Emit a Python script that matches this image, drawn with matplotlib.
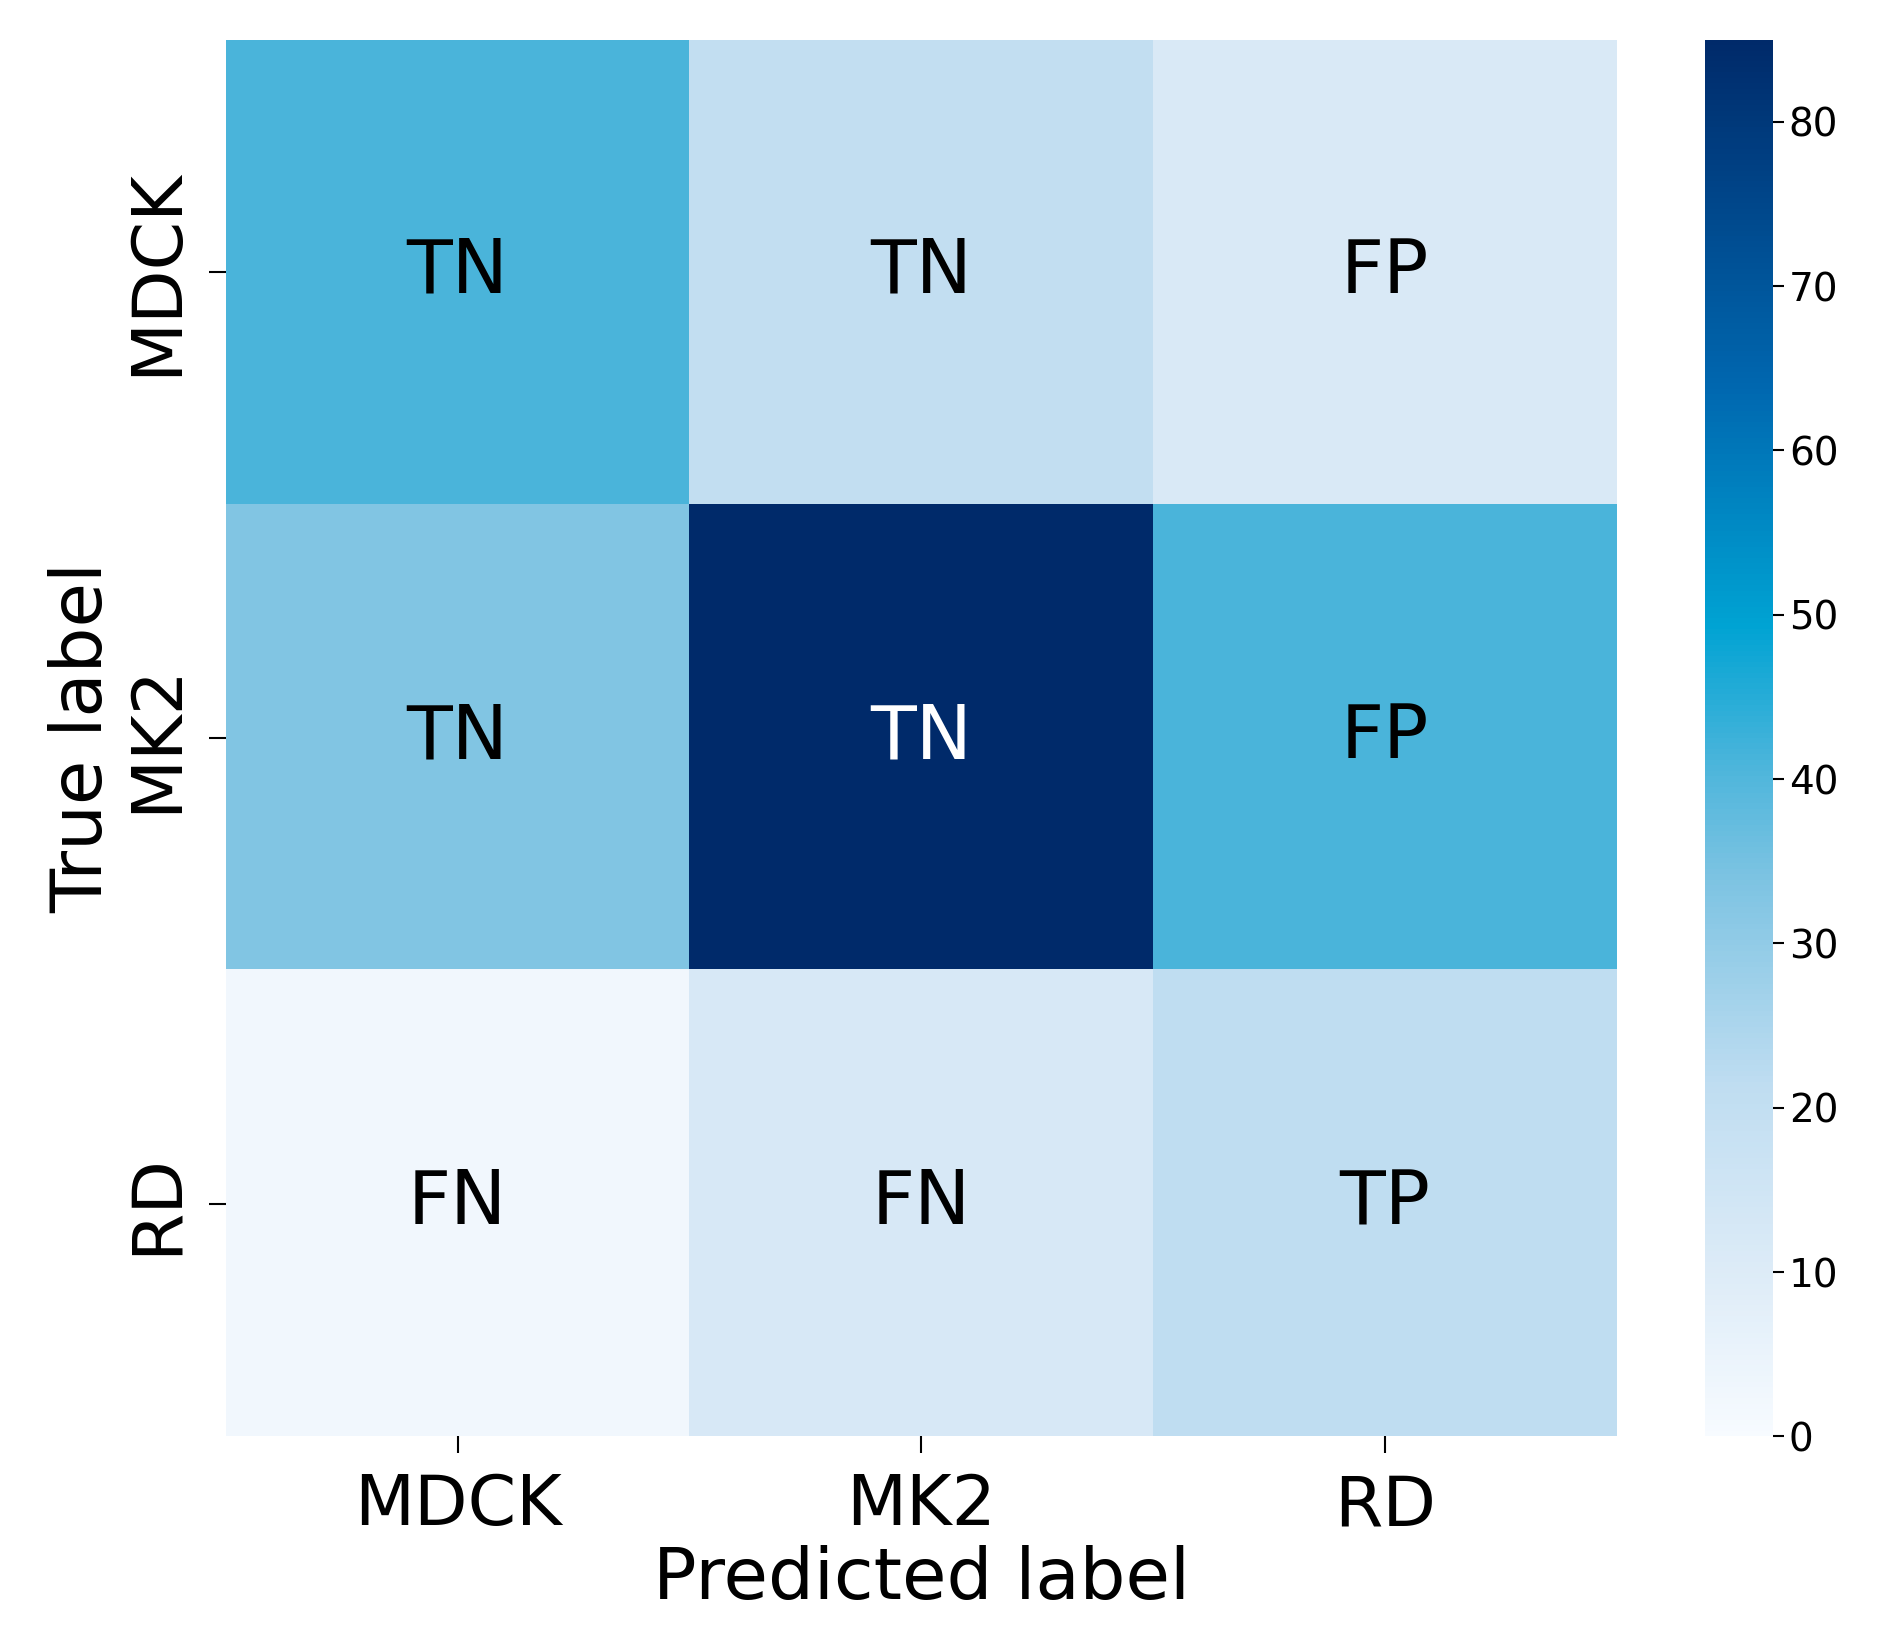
import matplotlib
matplotlib.use("Agg")
import matplotlib.pyplot as plt
import numpy as np
from matplotlib.colors import LinearSegmentedColormap

classes = ["MDCK", "MK2", "RD"]
values = [[41, 20, 11],
          [33, 85, 41],
          [2, 12, 21]]
labels = [["TN", "TN", "FP"],
          ["TN", "TN", "FP"],
          ["FN", "FN", "TP"]]

cmap = LinearSegmentedColormap.from_list("cb", [
    (0.0, "#f7fbff"), (0.12, "#dcebf7"), (0.25, "#bfddf1"), (0.4, "#7cc3e2"),
    (0.48, "#4cb5db"), (0.58, "#00a3d3"), (0.75, "#0068b0"), (1.0, "#002a6a")])

fig = plt.figure(figsize=(18.82, 16.51), dpi=100)
ax = fig.add_axes([0.12, 0.13, 0.739, 0.846])
cax = fig.add_axes([0.906, 0.13, 0.036, 0.846])
data = np.array(values)
im = ax.imshow(data, cmap=cmap, vmin=0, vmax=85, aspect="auto")
for i in range(3):
    for j in range(3):
        ax.text(j, i, labels[i][j], ha="center", va="center", fontsize=54,
                color="white" if data[i, j] > 60 else "black")
ax.set_xticks(range(3))
ax.set_xticklabels(classes, fontsize=50)
ax.set_yticks(range(3))
ax.set_yticklabels(classes, fontsize=50, rotation=90, va="center")
ax.tick_params(length=12, width=1.5, pad=14)
ax.set_xlabel("Predicted label", fontsize=52)
ax.set_ylabel("True label", fontsize=52)
for s in ax.spines.values():
    s.set_visible(False)
cb = fig.colorbar(im, cax=cax, ticks=range(0, 81, 10))
cb.outline.set_visible(False)
cb.ax.tick_params(labelsize=28, length=8, width=1.5)
fig.savefig("out.png", dpi=100)
